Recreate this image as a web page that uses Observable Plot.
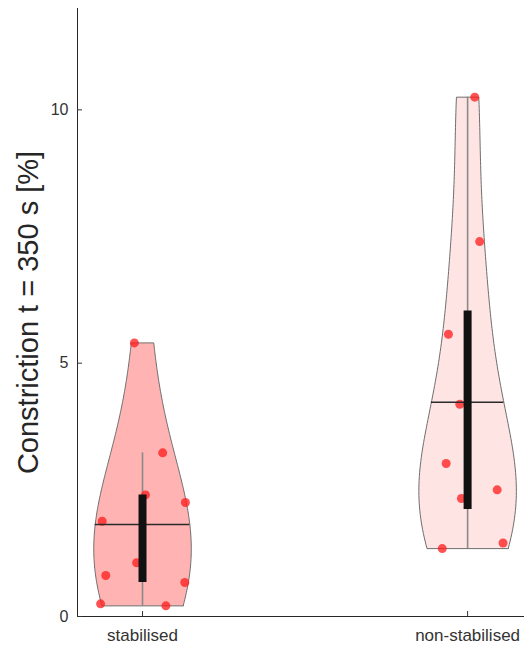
<!DOCTYPE html>
<html><head><meta charset="utf-8">
<script src="https://cdn.jsdelivr.net/npm/d3@7"></script>
<script src="https://cdn.jsdelivr.net/npm/@observablehq/plot@0.6"></script>
<style>body{margin:0;background:#fff} svg{display:block}</style>
</head><body><div id="chart"></div>
<script>
// ---- data ----
const categories = ["stabilised", "non-stabilised"];
const positions = [1, 2];
const stabilised = [5.40, 3.23, 2.40, 2.25, 1.88, 1.06, 0.81, 0.67, 0.25, 0.21];
const stabilisedJitter = [-0.025, 0.062, 0.009, 0.132, -0.124, -0.018, -0.113, 0.130, -0.129, 0.072];
const nonStabilised = [10.25, 7.40, 5.57, 4.19, 3.02, 2.50, 2.33, 1.45, 1.34];
const nonStabilisedJitter = [0.022, 0.037, -0.059, -0.024, -0.066, 0.091, -0.019, 0.109, -0.078];
const violinFill = ["#ffb3b3", "#ffe4e4"];
const yTicks = [0, 5, 10];
const yLabel = "Constriction t = 350 s [%]";
const xDomain = [0.8, 2.175];
const yDomain = [0, 12];
const violinHalfWidth = 0.15;
const bandwidth = 1.5;

// ---- statistics (violin plot style) ----
function mQuantile(sorted, p) {
  const n = sorted.length, pos = n * p + 0.5;
  if (pos <= 1) return sorted[0];
  if (pos >= n) return sorted[n - 1];
  const i = Math.floor(pos), f = pos - i;
  return sorted[i - 1] + f * (sorted[i] - sorted[i - 1]);
}
function stats(values, pos) {
  const s = values.slice().sort((a, b) => a - b);
  const n = s.length;
  const bw = bandwidth;
  const dens = y => d3.sum(s, v => Math.exp(-0.5 * ((y - v) / bw) ** 2));
  const lo = s[0], hi = s[n - 1];
  const ys = d3.range(120).map(i => lo + (hi - lo) * i / 119);
  const ds = ys.map(dens);
  const maxD = d3.max(ds);
  const half = y => violinHalfWidth * dens(y) / maxD;
  const right = ys.map((y, i) => ({x: pos + violinHalfWidth * ds[i] / maxD, y}));
  const left = ys.map((y, i) => ({x: pos - violinHalfWidth * ds[i] / maxD, y})).reverse();
  const outline = right.concat(left, [right[0]]);
  const q1 = mQuantile(s, 0.25), q3 = mQuantile(s, 0.75), iqr = q3 - q1;
  const wLo = d3.min(s.filter(v => v >= q1 - 1.5 * iqr));
  const wHi = d3.max(s.filter(v => v <= q3 + 1.5 * iqr));
  const mean = d3.mean(s);
  const hm = half(mean);
  return {outline, q1, q3, wLo, wHi, mean, meanX1: pos - hm, meanX2: pos + hm, pos};
}
const groups = [
  {values: stabilised, jitter: stabilisedJitter},
  {values: nonStabilised, jitter: nonStabilisedJitter}
].map((g, i) => ({...g, ...stats(g.values, positions[i]), fill: violinFill[i]}));

const marks = [];
groups.forEach(g => {
  marks.push(Plot.line(g.outline, {x: "x", y: "y", fill: g.fill, stroke: "#6e6e6e", strokeWidth: 1, curve: "linear"}));
});
groups.forEach(g => {
  marks.push(Plot.ruleX([g], {x: "pos", y1: "wLo", y2: "wHi", stroke: "#8a8a8a", strokeWidth: 1.6}));
  marks.push(Plot.dot(g.values.map((v, i) => ({x: g.pos + g.jitter[i], y: v})),
    {x: "x", y: "y", r: 4.5, fill: "#ff1a1a", fillOpacity: 0.75, stroke: "none"}));
  marks.push(Plot.ruleY([g], {y: "mean", x1: "meanX1", x2: "meanX2", stroke: "#2a2a2a", strokeWidth: 1.4}));
  marks.push(Plot.ruleX([g], {x: "pos", y1: "q1", y2: "q3", stroke: "#111", strokeWidth: 8}));
});

const chart = Plot.plot({
  width: 524, height: 650,
  marginLeft: 77, marginRight: 0, marginTop: 8, marginBottom: 34,
  style: {fontFamily: "'Liberation Sans', Arial, sans-serif", background: "#fff", color: "#262626"},
  x: {domain: xDomain},
  y: {domain: yDomain},
  marks: [
    ...marks,
    Plot.ruleY([yDomain[0]], {stroke: "#262626", strokeWidth: 1}),
    Plot.ruleX([xDomain[0]], {stroke: "#262626", strokeWidth: 1}),
    Plot.axisY(yTicks, {tickSize: -5, tickPadding: 14, fontSize: 16, label: null, color: "#333",
      tickFormat: d3.format("d")}),
    Plot.axisX(positions, {tickSize: -5, tickPadding: 17, fontSize: 17, label: null, color: "#333",
      tickFormat: d => categories[positions.indexOf(d)]}),
    Plot.text([yLabel], {frameAnchor: "left", textAnchor: "middle", lineAnchor: "middle",
      rotate: -90, dx: -49, fontSize: 29, fill: "#262626"})
  ]
});
document.getElementById("chart").append(chart);
</script>
</body></html>
